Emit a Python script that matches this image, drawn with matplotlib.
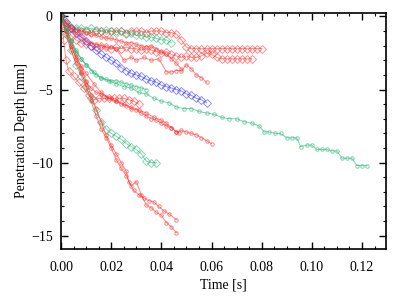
import matplotlib
matplotlib.use('Agg')
import matplotlib.pyplot as plt
from matplotlib.ticker import MultipleLocator

plt.rcParams.update({'font.size': 10, 'font.family': 'Liberation Serif'})

# ---- data ----
# red, large open diamonds
t_rd1 = [0, 0.002, 0.004, 0.006, 0.008, 0.010, 0.012, 0.014, 0.016, 0.018, 0.020, 0.022, 0.024, 0.026, 0.028, 0.030,
         0.032, 0.034, 0.036, 0.038, 0.040, 0.042, 0.044, 0.046, 0.048, 0.050, 0.052, 0.054, 0.056, 0.058, 0.060,
         0.062, 0.064, 0.066, 0.068, 0.070, 0.072, 0.074, 0.076, 0.078, 0.080]
d_rd1 = [0, -0.5, -0.8, -0.9, -1.0, -1.0, -1.1, -1.0, -1.0, -1.1, -1.0, -1.0, -1.0, -1.1, -1.0, -1.0,
         -1.0, -1.1, -1.0, -1.0, -1.0, -1.1, -1.1, -1.2, -1.6, -2.1, -2.2, -2.2, -2.2, -2.2, -2.2,
         -2.2, -2.2, -2.2, -2.2, -2.2, -2.2, -2.2, -2.2, -2.2, -2.2]
t_rd2 = [0, 0.002, 0.004, 0.006, 0.008, 0.010, 0.012, 0.014, 0.016, 0.018, 0.020, 0.022, 0.024, 0.026, 0.028, 0.030,
         0.032, 0.034, 0.036, 0.038, 0.040, 0.042, 0.044, 0.046, 0.048, 0.050, 0.052, 0.054, 0.056, 0.058, 0.060,
         0.062, 0.064, 0.066, 0.068, 0.070, 0.072, 0.074, 0.076]
d_rd2 = [0, -0.8, -1.3, -1.6, -1.8, -1.9, -2.0, -2.1, -2.0, -2.1, -2.2, -2.1, -2.2, -2.1, -2.2, -2.2,
         -2.3, -2.2, -2.3, -2.4, -2.5, -2.4, -2.6, -2.7, -2.8, -2.7, -2.8, -2.8, -2.7, -2.5, -2.6,
         -2.8, -2.9, -2.9, -2.9, -2.9, -2.9, -2.9, -2.9]
t_rd3 = [0, 0.001, 0.002, 0.003, 0.005, 0.007, 0.009, 0.011, 0.013, 0.015, 0.017, 0.019, 0.021, 0.023, 0.025, 0.027,
         0.029, 0.031]
d_rd3 = [0, -1.6, -3.0, -3.7, -4.1, -4.5, -4.9, -5.4, -5.7, -5.6, -5.6, -5.6, -5.6, -5.6, -5.6, -5.7,
         -5.8, -6.0]

# blue, large open diamonds
t_bl = [0, 0.002, 0.004, 0.006, 0.008, 0.010, 0.012, 0.014, 0.016, 0.018, 0.020, 0.022, 0.024, 0.026, 0.028, 0.030,
        0.032, 0.034, 0.036, 0.038, 0.040, 0.042, 0.044, 0.046, 0.048, 0.050, 0.052, 0.054, 0.056, 0.058]
d_bl = [0, -0.4, -0.8, -1.1, -1.4, -1.7, -2.0, -2.3, -2.6, -2.8, -3.0, -3.2, -3.5, -3.7, -3.9, -4.0,
        -4.1, -4.3, -4.4, -4.5, -4.7, -4.8, -4.9, -5.0, -5.1, -5.3, -5.4, -5.6, -5.7, -5.9]

# green, large open diamonds
t_gd1 = [0, 0.002, 0.004, 0.006, 0.008, 0.010, 0.012, 0.014, 0.016, 0.018, 0.020, 0.022, 0.024, 0.026, 0.028, 0.030,
         0.032, 0.034, 0.036, 0.038, 0.040, 0.042, 0.044]
d_gd1 = [0, -0.4, -0.7, -0.8, -0.8, -0.9, -0.8, -0.9, -1.0, -0.9, -1.0, -1.1, -1.0, -1.2, -1.1, -1.3,
         -1.3, -1.4, -1.4, -1.5, -1.6, -1.6, -1.8]
t_gd2 = [0, 0.002, 0.004, 0.006, 0.008, 0.010, 0.012, 0.014, 0.016, 0.018, 0.020, 0.022, 0.024, 0.026, 0.028, 0.030,
         0.032, 0.034, 0.036, 0.038]
d_gd2 = [0, -1.2, -2.3, -3.3, -4.1, -4.8, -5.6, -6.4, -7.2, -7.7, -8.0, -8.2, -8.4, -8.7, -8.9, -9.1,
         -9.4, -9.9, -10.0, -10.0]

# green, small circles
t_gs1 = [0, 0.002, 0.004, 0.006, 0.008, 0.010, 0.013, 0.016, 0.019, 0.022, 0.025, 0.028, 0.031, 0.034, 0.037, 0.040,
         0.043, 0.046, 0.049, 0.052, 0.055, 0.058, 0.061, 0.064, 0.067, 0.070, 0.073, 0.076, 0.079, 0.081, 0.083,
         0.0855, 0.0875, 0.090, 0.092, 0.094, 0.0955, 0.098, 0.100, 0.102, 0.104, 0.106, 0.108, 0.110, 0.112,
         0.114, 0.116, 0.118, 0.120, 0.122]
d_gs1 = [0, -0.9, -1.7, -2.4, -2.9, -3.3, -3.8, -4.2, -4.4, -4.6, -4.8, -4.9, -5.2, -5.3, -5.6, -5.8,
         -5.9, -6.2, -6.3, -6.3, -6.5, -6.6, -6.7, -6.9, -7.0, -7.0, -7.2, -7.3, -7.5, -7.9, -7.9,
         -8.0, -8.0, -8.3, -8.3, -8.3, -8.9, -8.8, -8.8, -9.1, -9.1, -9.1, -9.2, -9.2, -9.7,
         -9.7, -9.7, -10.2, -10.2, -10.2]
t_gs2 = [0, 0.002, 0.004, 0.006, 0.008, 0.010, 0.012, 0.014, 0.016, 0.018, 0.020, 0.022, 0.024, 0.026, 0.028, 0.030,
         0.032, 0.034]
d_gs2 = [0, -0.8, -1.6, -2.3, -2.9, -3.3, -3.7, -4.0, -4.2, -4.3, -4.4, -4.4, -4.5, -4.6, -4.7, -4.8,
         -4.9, -5.0]

# red, small circles
t_rs1 = [0, 0.002, 0.004, 0.006, 0.008, 0.010, 0.012, 0.014, 0.016, 0.018, 0.020, 0.022, 0.024, 0.026, 0.027, 0.029,
         0.031, 0.033, 0.035, 0.037, 0.039, 0.041, 0.043, 0.046]
d_rs1 = [0, -0.8, -1.7, -2.6, -3.5, -4.4, -5.4, -6.3, -7.2, -8.1, -8.8, -9.4, -10.0, -10.6, -11.3, -11.9,
         -12.2, -12.4, -12.6, -12.7, -13.0, -13.3, -13.5, -13.9]
t_rs2 = [0, 0.002, 0.004, 0.006, 0.008, 0.010, 0.012, 0.014, 0.016, 0.018, 0.020, 0.022, 0.024, 0.026, 0.028, 0.030,
         0.032, 0.034, 0.036, 0.038, 0.040, 0.042, 0.044, 0.046]
d_rs2 = [0, -1.0, -2.0, -2.9, -3.8, -4.8, -5.8, -6.8, -7.7, -8.3, -9.0, -9.8, -10.4, -10.9, -11.6, -11.3,
         -12.2, -12.9, -13.1, -13.4, -13.6, -14.1, -14.4, -14.8]
t_rs3 = [0, 0.002, 0.004, 0.006, 0.008, 0.010, 0.013, 0.016, 0.019, 0.022, 0.025, 0.028, 0.031, 0.034, 0.037, 0.040,
         0.042, 0.044, 0.046, 0.048, 0.050, 0.052, 0.054, 0.056, 0.058, 0.060]
d_rs3 = [0, -1.0, -2.0, -2.8, -3.4, -3.9, -4.6, -5.2, -5.6, -5.8, -6.0, -6.2, -6.4, -6.6, -6.9, -7.1,
         -7.3, -7.6, -7.9, -7.8, -7.9, -8.0, -8.1, -8.3, -8.5, -8.7]
t_rs4 = [0, 0.002, 0.004, 0.006, 0.008, 0.010, 0.012, 0.014, 0.016, 0.018, 0.020, 0.022, 0.024, 0.026, 0.028, 0.030,
         0.032, 0.034, 0.036, 0.038, 0.040, 0.042, 0.044, 0.046, 0.047]
d_rs4 = [0, -1.2, -2.3, -3.2, -3.9, -4.5, -4.9, -5.2, -5.3, -5.5, -5.6, -5.8, -6.0, -6.1, -6.3, -6.4,
         -6.6, -6.8, -7.0, -7.1, -7.3, -7.5, -7.6, -7.9, -8.0]
t_rs5 = [0, 0.002, 0.004, 0.006, 0.008, 0.010, 0.012, 0.014, 0.016, 0.018, 0.020, 0.022, 0.025, 0.028, 0.030, 0.033,
         0.036, 0.039, 0.042, 0.044, 0.046, 0.048, 0.050, 0.052, 0.054, 0.056, 0.058]
d_rs5 = [0, -0.5, -0.9, -1.2, -1.4, -1.6, -1.8, -1.9, -2.0, -2.1, -2.1, -2.2, -3.0, -2.8, -3.0, -2.8,
         -3.0, -2.9, -3.8, -3.8, -3.7, -3.7, -3.3, -3.6, -4.0, -4.2, -4.5]
t_rs6 = [0, 0.002, 0.004, 0.006, 0.008, 0.010, 0.012, 0.014, 0.016, 0.018, 0.020, 0.022, 0.024, 0.026, 0.028, 0.030,
         0.032, 0.034, 0.036, 0.038, 0.040, 0.042, 0.044, 0.046, 0.048]
d_rs6 = [0, -0.4, -0.7, -0.9, -1.0, -1.1, -1.2, -1.3, -1.4, -1.5, -1.5, -1.6, -1.7, -1.8, -1.8, -1.9,
         -2.0, -2.1, -2.0, -2.2, -2.4, -2.6, -2.9, -3.2, -3.6]

red = '#ff3030'
green = '#22b873'
blue = '#3030ff'

big = [(t_rd1, d_rd1, red), (t_rd2, d_rd2, red), (t_rd3, d_rd3, red),
       (t_gd1, d_gd1, green), (t_gd2, d_gd2, green), (t_bl, d_bl, blue)]
small = [(t_rs1, d_rs1, red), (t_rs2, d_rs2, red), (t_rs3, d_rs3, red),
         (t_rs4, d_rs4, red), (t_rs5, d_rs5, red), (t_rs6, d_rs6, red),
         (t_gs1, d_gs1, green), (t_gs2, d_gs2, green)]

fig = plt.figure(figsize=(4.07, 3.05), dpi=100)
ax = fig.add_axes([0.150, 0.184, 0.798, 0.774])

for t, d, c in big:
    ax.plot(t, d, '-', color=c, lw=0.7, alpha=0.55,
            marker='D', ms=4.5, mfc='none', mec=c, mew=0.7)
for t, d, c in small:
    ax.plot(t, d, '-', color=c, lw=0.7, alpha=0.6,
            marker='o', ms=2.5, mfc='none', mec=c, mew=0.7)

ax.set_xlim(0, 0.1295)
ax.set_ylim(-15.9, 0.25)
ax.xaxis.set_major_locator(MultipleLocator(0.02))
ax.xaxis.set_minor_locator(MultipleLocator(0.005))
ax.yaxis.set_major_locator(MultipleLocator(5))
ax.yaxis.set_minor_locator(MultipleLocator(1))
ax.xaxis.set_major_formatter(plt.FormatStrFormatter('%.2f'))
ax.tick_params(which='both', direction='in', top=True, right=True)
ax.tick_params(which='major', length=5, width=1)
ax.tick_params(which='minor', length=2.5, width=0.8)
ax.tick_params(axis='x', which='major', pad=9)
ax.tick_params(axis='y', which='major', pad=6)
for s in ax.spines.values():
    s.set_linewidth(1.2)

ax.set_xlabel('Time [s]', labelpad=3)
ax.set_ylabel('Penetration Depth [mm]', labelpad=2)

fig.savefig('out.png', dpi=100)
